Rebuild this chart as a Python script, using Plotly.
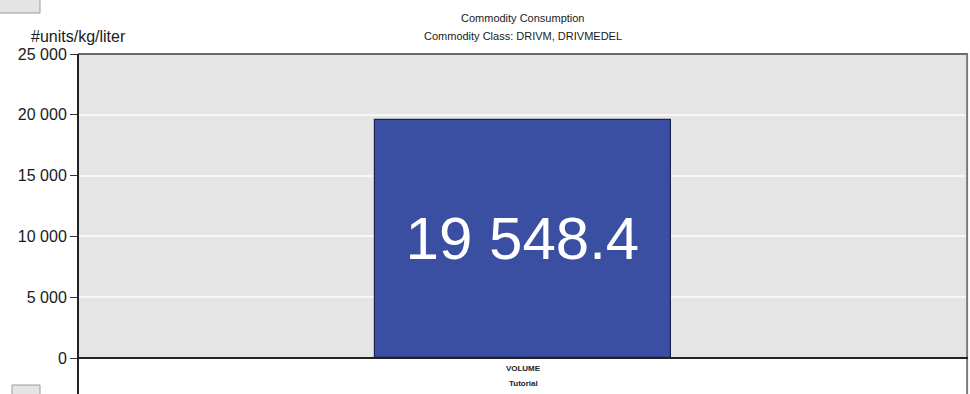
import plotly.graph_objects as go

# Data
outer_labels = ["Tutorial"]
inner_labels = ["VOLUME"]
values = [19548.4]
y_ticks = [0, 5000, 10000, 15000, 20000, 25000]

title_line1 = "Commodity Consumption"
title_line2 = "Commodity Class: DRIVM, DRIVMEDEL"
y_title = "#units/kg/liter"

FONT = "Liberation Sans, Arial, sans-serif"

fig = go.Figure(
    go.Bar(
        x=inner_labels,
        y=values,
        width=0.333,
        marker=dict(color="#3a4fa1", line=dict(color="#1a2250", width=1.2)),
        texttemplate="%{y:,.1f}",
        textposition="inside",
        insidetextanchor="middle",
        textfont=dict(family=FONT, size=60, color="white"),
        hoverinfo="skip",
    )
)

W, H = 970, 394
L, R, T, B = 78, 2, 54, 36
plot_h = H - T - B

fig.update_layout(
    width=W,
    height=H,
    margin=dict(l=L, r=R, t=T, b=B, pad=0),
    paper_bgcolor="white",
    plot_bgcolor="#e5e5e5",
    separators=". ",
    showlegend=False,
    font=dict(family=FONT, color="#1a1a1a"),
    bargap=0,
)

fig.update_xaxes(
    type="category",
    showgrid=False,
    showline=False,
    ticks="",
    ticklabelstandoff=4,
    tickfont=dict(family=FONT, size=8, color="#222", weight="bold"),
    range=[-0.5, 0.5],
)

fig.update_yaxes(
    range=[0, 25000],
    tickvals=y_ticks,
    tickformat=",d",
    ticks="outside",
    ticklen=7,
    tickwidth=1,
    tickcolor="#333",
    tickfont=dict(family=FONT, size=16, color="#1a1a1a"),
    showgrid=True,
    gridcolor="#f7f7f7",
    gridwidth=1.5,
    zeroline=False,
    showline=False,
)

shapes = []
ext = -B / plot_h  # bottom edge of the page in paper units
# frame: gray top and right, dark left and bottom
shapes.append(dict(type="line", xref="paper", yref="paper", x0=0, x1=1, y0=1, y1=1,
                   line=dict(color="#6a6a6a", width=2)))
shapes.append(dict(type="line", xref="paper", yref="paper", x0=0.999, x1=0.999, y0=ext, y1=1,
                   line=dict(color="#7a7a7a", width=2)))
shapes.append(dict(type="line", xref="paper", yref="paper", x0=0, x1=0, y0=ext, y1=1,
                   line=dict(color="#222", width=2)))
shapes.append(dict(type="line", xref="paper", yref="paper", x0=0, x1=1, y0=0, y1=0,
                   line=dict(color="#222", width=2)))
# small grey buttons at the page corners
px = lambda v: (v - L) / (W - L - R)
py = lambda v: (H - B - v) / plot_h
shapes.append(dict(type="rect", xref="paper", yref="paper",
                   x0=px(-2), x1=px(40), y0=py(13), y1=py(-2),
                   fillcolor="#e4e4e4", line=dict(color="#9a9a9a", width=1)))
shapes.append(dict(type="rect", xref="paper", yref="paper",
                   x0=px(12), x1=px(40), y0=py(396), y1=py(385),
                   fillcolor="#e4e4e4", line=dict(color="#9a9a9a", width=1)))

annotations = [
    dict(text=title_line1, xref="paper", yref="paper", x=0.5, y=py(18),
         showarrow=False, font=dict(family=FONT, size=11, color="#1a1a1a"),
         xanchor="center", yanchor="middle"),
    dict(text=title_line2, xref="paper", yref="paper", x=0.5, y=py(36),
         showarrow=False, font=dict(family=FONT, size=11, color="#1a1a1a"),
         xanchor="center", yanchor="middle"),
    dict(text=y_title, xref="paper", yref="paper", x=px(29), y=py(37),
         showarrow=False, font=dict(family=FONT, size=16, color="#1a1a1a"),
         xanchor="left", yanchor="middle"),
    # outer category label beneath the tick label
    dict(text=outer_labels[0], x=inner_labels[0], xref="x", yref="paper", y=py(383),
         showarrow=False, font=dict(family=FONT, size=8, color="#222", weight="bold"),
         xanchor="center", yanchor="middle"),
]

fig.update_layout(shapes=shapes, annotations=annotations)

fig.write_html("out.html")
